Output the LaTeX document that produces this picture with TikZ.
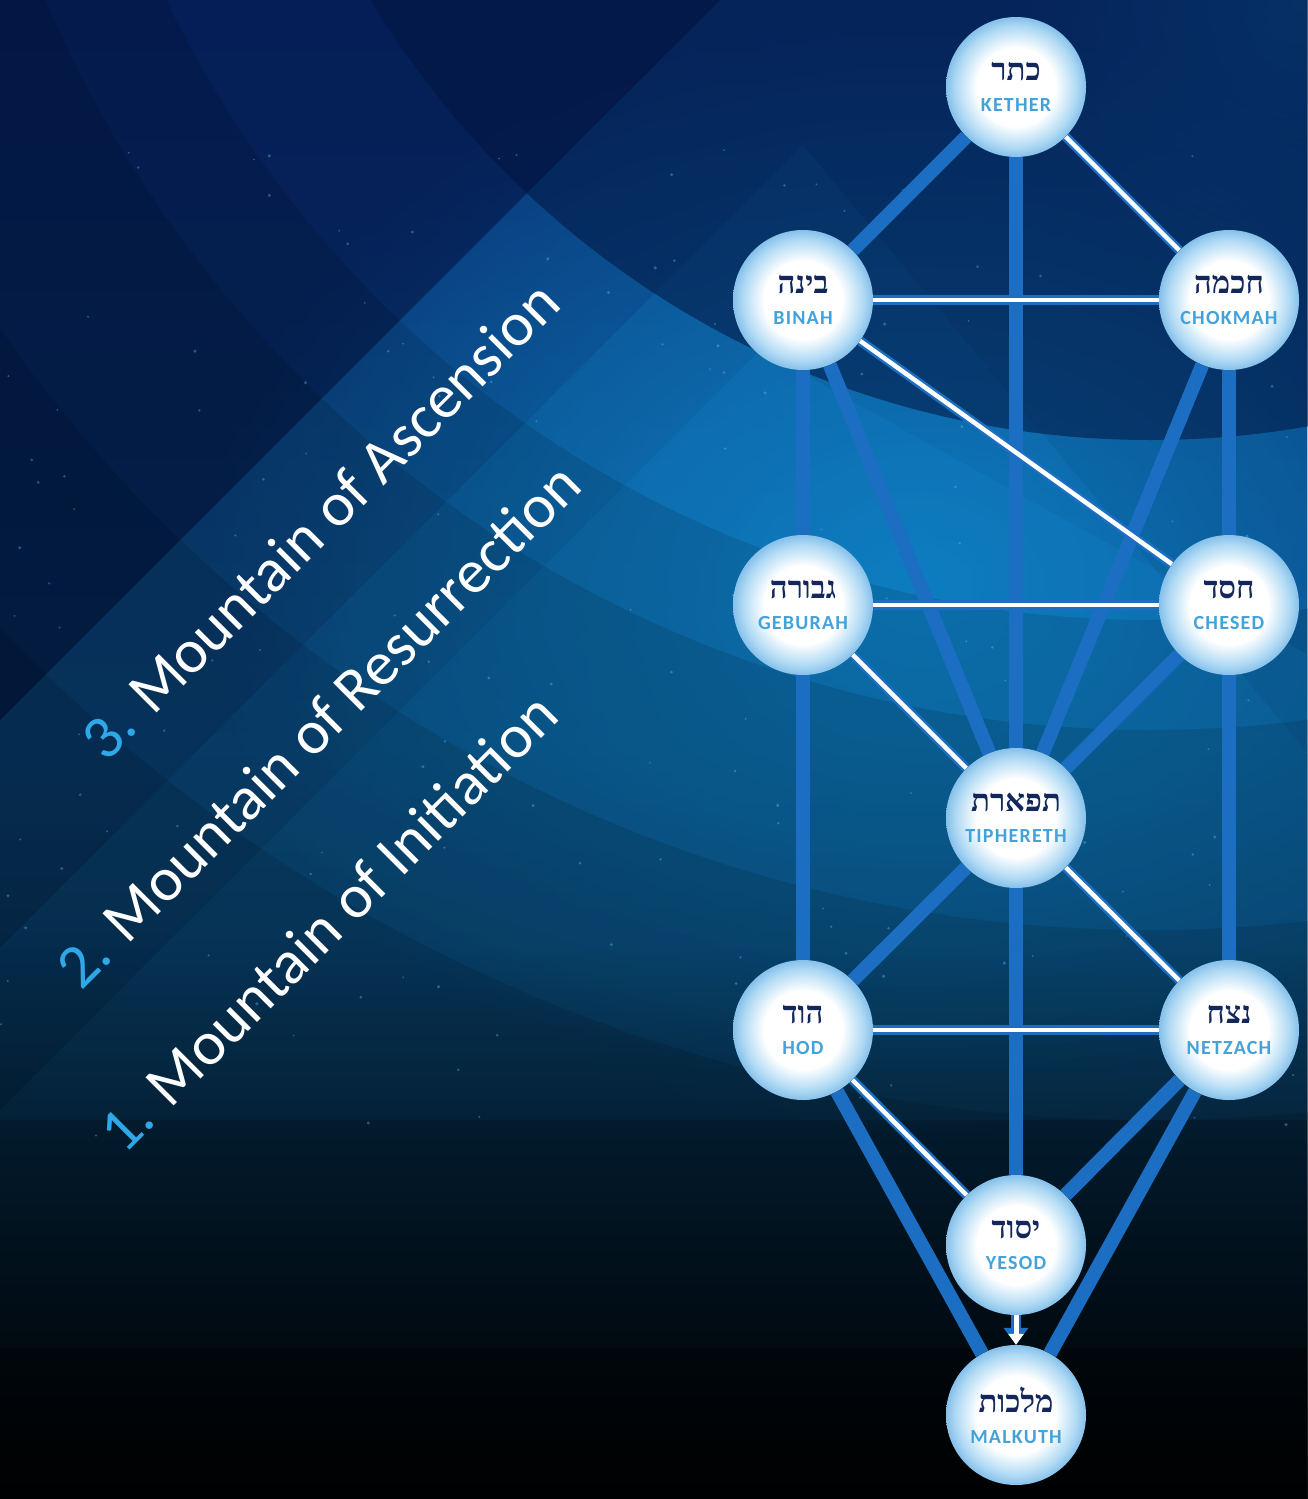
\documentclass[tikz,border=0pt]{standalone}
\usepackage{fontspec}
\setmainfont{Carlito}
\newfontfamily\hebfont[Script=Hebrew]{Liberation Serif}
\TeXXeTstate=1
\usetikzlibrary{fadings,arrows.meta}

\definecolor{pathblue}{HTML}{1B6EC2}
\definecolor{navytext}{HTML}{13275A}
\definecolor{labelblue}{HTML}{44A2DA}
\definecolor{numblue}{HTML}{2FA8E8}
\definecolor{skytop}{HTML}{08266A}
\definecolor{skymid}{HTML}{083C72}
\definecolor{skylow}{HTML}{01050A}
\definecolor{glow}{HTML}{0B86C8}
\definecolor{peak}{HTML}{1690D8}
\definecolor{deepnavy}{HTML}{021540}
\definecolor{sphereedge}{HTML}{B0DAF4}
\definecolor{sphererim}{HTML}{86C0EA}

\pgfdeclareradialshading{sphere}{\pgfpoint{0bp}{0bp}}{color(0bp)=(white); color(14bp)=(white); color(21.5bp)=(sphereedge); color(25bp)=(sphererim); color(50bp)=(sphererim)}
\tikzfading[name=fade down, top color=transparent!100, bottom color=transparent!0]
\tikzfading[name=glowfade, inner color=transparent!0, outer color=transparent!100]

\pgfdeclarelayer{bg}
\pgfdeclarelayer{paths}
\pgfsetlayers{bg,paths,main}

\newcommand\heb[1]{{\hebfont\bfseries\fontsize{31}{31}\selectfont\color{navytext}\beginR #1\endR}}
\newcommand\lat[1]{{\bfseries\fontsize{20}{20}\selectfont\color{labelblue}\addfontfeature{LetterSpace=6}#1}}

\tikzset{
  sephira/.style={circle, minimum size=140pt, inner sep=0pt, shading=sphere, align=center, font=\fontsize{20}{31}\selectfont},
  pillar/.style={pathblue, line width=14pt},
  channel/.style={draw=pathblue, double=white, double distance=4.5pt, line width=2.5pt},
  mtext/.style={rotate=45, text=white, font=\fontsize{62}{62}\selectfont, inner sep=0pt},
  mountain/.style={fill=peak, opacity=0.16}
}

\begin{document}
\begin{tikzpicture}[x=1pt,y=-1pt]
  \useasboundingbox (0,0) rectangle (1307,1499);
  % background
  \begin{pgfonlayer}{bg}
    \shade[top color=skytop, bottom color=skylow, middle color=skymid] (0,0) rectangle (1307,1499);
    \fill[glow, path fading=glowfade, opacity=0.75] (920,580) ellipse (720 and 560);
    \fill[glow, path fading=glowfade, opacity=0.35] (1307,0) circle (300);
    % mountains
    \fill[mountain] (900,-180) -- (-400,1120) -- (1307,1120) -- (1307,-180) -- cycle;
    \fill[mountain] (803,145) -- (-400,1348) -- (1800,1348) -- cycle;
    \fill[mountain] (760,350) -- (-430,1540) -- (2900,1540) -- cycle;
    % dark sky outside the mountains
    \fill[deepnavy, opacity=0.45] (-10,-10) -- (730,-10) -- (-10,730) -- cycle;
    % rings
    \fill[deepnavy, opacity=0.55] (1150,-470) circle (910);
    \foreach \r in {1090,1200,1400,1590}
      \fill[black, opacity=0.11, even odd rule] (-10,-10) rectangle (1317,1509) (1150,-470) circle (\r);
    \fill[black, path fading=fade down, opacity=0.92] (-10,950) rectangle (1317,1509);
    % stars
    \pgfmathsetseed{11}
    \foreach \i in {1,...,160}{
      \pgfmathsetmacro\sx{rnd*1307}
      \pgfmathsetmacro\sy{150+rnd*1000}
      \fill[cyan!60!white, opacity=0.35] (\sx,\sy) circle (0.9+rnd*0.9);
    }
  \end{pgfonlayer}

  % the sephiroth
  \node[sephira] (kether)    at (1016,87)   {\heb{כתר}\\\lat{KETHER}};
  \node[sephira] (binah)     at (803,300)   {\heb{בינה}\\\lat{BINAH}};
  \node[sephira] (chokmah)   at (1229,300)  {\heb{חכמה}\\\lat{CHOKMAH}};
  \node[sephira] (geburah)   at (803,605)   {\heb{גבורה}\\\lat{GEBURAH}};
  \node[sephira] (chesed)    at (1229,605)  {\heb{חסד}\\\lat{CHESED}};
  \node[sephira] (tiphereth) at (1016,818)  {\heb{תפארת}\\\lat{TIPHERETH}};
  \node[sephira] (hod)       at (803,1030)  {\heb{הוד}\\\lat{HOD}};
  \node[sephira] (netzach)   at (1229,1030) {\heb{נצח}\\\lat{NETZACH}};
  \node[sephira] (yesod)     at (1016,1245) {\heb{יסוד}\\\lat{YESOD}};
  \node[sephira] (malkuth)   at (1016,1415) {\heb{מלכות}\\\lat{MALKUTH}};

  % paths
  \begin{pgfonlayer}{paths}
    \foreach \a/\b in {kether/binah, kether/tiphereth, chokmah/chesed, chokmah/tiphereth,
      binah/geburah, binah/tiphereth, chesed/tiphereth, geburah/hod, chesed/netzach,
      tiphereth/hod, tiphereth/yesod, netzach/yesod, hod/malkuth, netzach/malkuth}
      \draw[pillar] (\a) -- (\b);
    \foreach \a/\b in {kether/chokmah, binah/chokmah, binah/chesed, geburah/chesed,
      geburah/tiphereth, tiphereth/netzach, hod/netzach, hod/yesod}
      \draw[channel] (\a) -- (\b);
    \draw[pathblue, line width=10pt, -{Triangle[width=24pt,length=17pt]}] (yesod) -- (malkuth);
    \draw[white, line width=5pt, -{Triangle[width=15pt,length=11pt]}] (yesod) -- (malkuth);
  \end{pgfonlayer}

  % the three mountains
  \node[mtext] (ascension)    at (320,520) {\textcolor{numblue}{3.} Mountain of Ascension};
  \node[mtext] (resurrection) at (318,725) {\textcolor{numblue}{2.} Mountain of Resurrection};
  \node[mtext] (initiation)   at (328,922) {\textcolor{numblue}{1.} Mountain of Initiation};
\end{tikzpicture}
\end{document}
